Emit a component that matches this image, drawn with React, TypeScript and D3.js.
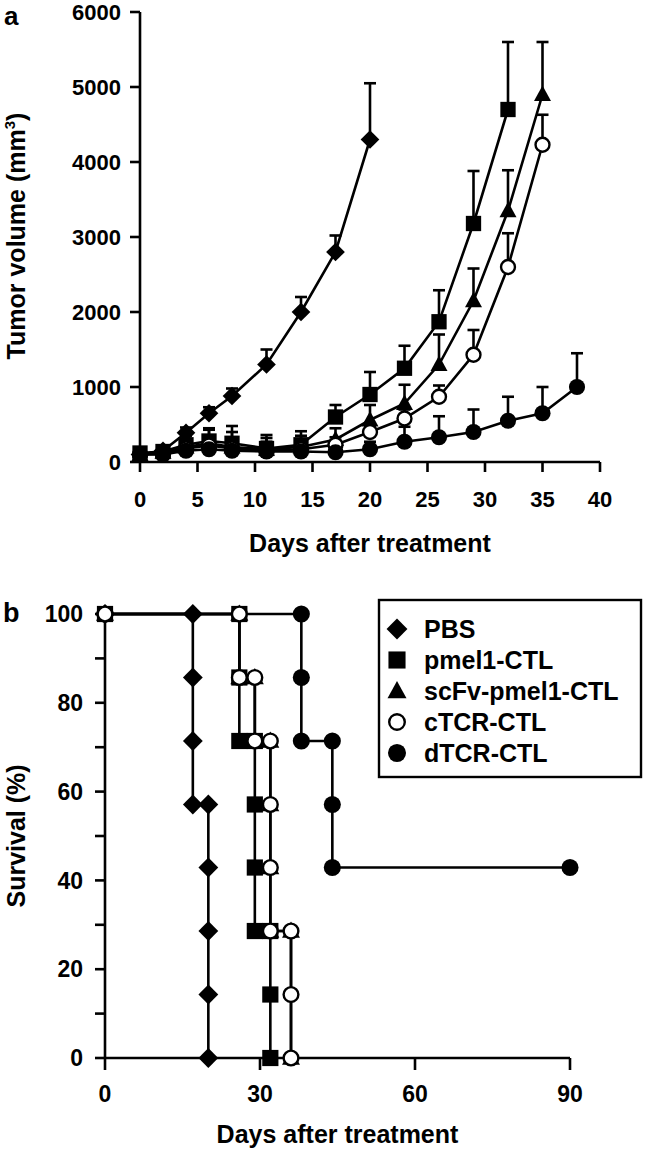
import React from "react";
import * as d3 from "d3";

// ---------- Panel a: tumor volume ----------
const pbsDays = [0, 2, 4, 6, 8, 11, 14, 17, 20];
const pbsVol = [100, 150, 390, 650, 880, 1300, 2000, 2800, 4300];
const pbsErr = [30, 40, 70, 80, 100, 200, 200, 220, 750];

const ctlDays = [0, 2, 4, 6, 8, 11, 14, 17, 20, 23, 26, 29, 32, 35, 38];
const pmel1Vol = [120, 140, 230, 280, 250, 180, 230, 600, 900, 1250, 1870, 3180, 4700];
const pmel1Err = [30, 60, 120, 170, 230, 180, 180, 160, 300, 300, 420, 700, 900];
const scfvVol = [100, 130, 200, 250, 200, 170, 200, 300, 560, 780, 1300, 2150, 3350, 4900];
const scfvErr = [30, 50, 100, 180, 200, 150, 150, 150, 200, 250, 400, 430, 540, 700];
const ctcrVol = [100, 110, 180, 220, 180, 150, 170, 230, 400, 580, 870, 1430, 2600, 4230];
const ctcrErr = [20, 40, 80, 120, 150, 120, 120, 100, 80, 120, 150, 330, 450, 400];
const dtcrVol = [100, 100, 150, 170, 150, 140, 140, 130, 170, 270, 330, 400, 550, 650, 1000];
const dtcrErr = [20, 40, 60, 90, 100, 80, 100, 80, 100, 200, 280, 300, 320, 350, 450];

const volTicks = [0, 1000, 2000, 3000, 4000, 5000, 6000];
const dayTicksA = [0, 5, 10, 15, 20, 25, 30, 35, 40];

// ---------- Panel b: survival ----------
const pbsSurvT = [0, 17, 17, 17, 17, 20, 20, 20, 20, 20];
const pbsSurvS = [100, 100, 85.7, 71.4, 57.1, 57.1, 42.9, 28.6, 14.3, 0];
const pmel1SurvT = [0, 26, 26, 26, 29, 29, 29, 29, 32, 32, 32];
const pmel1SurvS = [100, 100, 85.7, 71.4, 71.4, 57.1, 42.9, 28.6, 28.6, 14.3, 0];
const scfvSurvT = [0, 26, 26, 29, 29, 32, 32, 32, 32, 36, 36];
const scfvSurvS = [100, 100, 85.7, 85.7, 71.4, 71.4, 57.1, 42.9, 28.6, 28.6, 0];
const ctcrSurvT = [0, 26, 26, 29, 29, 32, 32, 32, 32, 36, 36, 36];
const ctcrSurvS = [100, 100, 85.7, 85.7, 71.4, 71.4, 57.1, 42.9, 28.6, 28.6, 14.3, 0];
const dtcrSurvT = [0, 38, 38, 38, 44, 44, 44, 90];
const dtcrSurvS = [100, 100, 85.7, 71.4, 71.4, 57.1, 42.9, 42.9];

const survTicks = [0, 20, 40, 60, 80, 100];
const survMinorTicks = [10, 30, 50, 70, 90];
const dayTicksB = [0, 30, 60, 90];

const legendLabels = ["PBS", "pmel1-CTL", "scFv-pmel1-CTL", "cTCR-CTL", "dTCR-CTL"];
const markerKinds = ["diamond", "square", "triangle", "openCircle", "circle"];

const FONT = "'Liberation Sans', Arial, Helvetica, sans-serif";
const LW = 2.6;

function Marker({ kind, x, y, s }: { kind: string; x: number; y: number; s: number }) {
  const h = s / 2;
  if (kind === "diamond") {
    const d = h * 1.1;
    return <path d={`M${x},${y - d}L${x + d},${y}L${x},${y + d}L${x - d},${y}Z`} fill="#000" />;
  }
  if (kind === "square") {
    return <rect x={x - h * 0.9} y={y - h * 0.9} width={h * 1.8} height={h * 1.8} fill="#000" />;
  }
  if (kind === "triangle") {
    return <path d={`M${x},${y - h * 1.05}L${x + h},${y + h * 0.75}L${x - h},${y + h * 0.75}Z`} fill="#000" />;
  }
  if (kind === "openCircle") {
    return <circle cx={x} cy={y} r={h * 0.82} fill="#fff" stroke="#000" strokeWidth={2.4} />;
  }
  return <circle cx={x} cy={y} r={h * 0.95} fill="#000" />;
}

export default function App() {
  const xA = d3.scaleLinear().domain([0, 40]).range([140, 600]);
  const yA = d3.scaleLinear().domain([0, 6000]).range([462, 12]);
  const xB = d3.scaleLinear().domain([0, 90]).range([105, 570]);
  const yB = d3.scaleLinear().domain([0, 100]).range([1058, 614]);

  const seriesA = [
    { days: pbsDays, vol: pbsVol, err: pbsErr, kind: markerKinds[0] },
    { days: ctlDays, vol: pmel1Vol, err: pmel1Err, kind: markerKinds[1] },
    { days: ctlDays, vol: scfvVol, err: scfvErr, kind: markerKinds[2] },
    { days: ctlDays, vol: ctcrVol, err: ctcrErr, kind: markerKinds[3] },
    { days: ctlDays, vol: dtcrVol, err: dtcrErr, kind: markerKinds[4] },
  ];
  // drawing order for survival: open circles on top
  const seriesB = [
    { t: pbsSurvT, s: pbsSurvS, kind: markerKinds[0] },
    { t: dtcrSurvT, s: dtcrSurvS, kind: markerKinds[4] },
    { t: pmel1SurvT, s: pmel1SurvS, kind: markerKinds[1] },
    { t: scfvSurvT, s: scfvSurvS, kind: markerKinds[2] },
    { t: ctcrSurvT, s: ctcrSurvS, kind: markerKinds[3] },
  ];

  const lineA = d3.line<[number, number]>().x((d) => xA(d[0])).y((d) => yA(d[1]));
  const lineB = d3.line<[number, number]>().x((d) => xB(d[0])).y((d) => yB(d[1]));

  const tickLen = 10;

  return (
    <div style={{ position: "absolute", left: 0, top: 0 }}>
      <svg width={645} height={1152} style={{ display: "block", background: "#fff" }} fontFamily={FONT} fontWeight="bold">
        {/* ---------- Panel a ---------- */}
        <text x={4} y={25} fontSize={26}>a</text>
        <line x1={xA(0)} x2={xA(0)} y1={yA(0)} y2={yA(6000)} stroke="#000" strokeWidth={LW} />
        <line x1={xA(0)} x2={xA(40)} y1={yA(0)} y2={yA(0)} stroke="#000" strokeWidth={LW} />
        {volTicks.map((v) => (
          <g key={"ya" + v}>
            <line x1={xA(0) - tickLen} x2={xA(0)} y1={yA(v)} y2={yA(v)} stroke="#000" strokeWidth={LW} />
            <text x={xA(0) - 19} y={yA(v)} dy="0.36em" textAnchor="end" fontSize={22}>{v}</text>
          </g>
        ))}
        {dayTicksA.map((d) => (
          <g key={"xa" + d}>
            <line x1={xA(d)} x2={xA(d)} y1={yA(0)} y2={yA(0) + tickLen} stroke="#000" strokeWidth={LW} />
            <text x={xA(d)} y={507} textAnchor="middle" fontSize={22}>{d}</text>
          </g>
        ))}
        <text x={xA(20)} y={552} textAnchor="middle" fontSize={25}>Days after treatment</text>
        <text transform={`translate(25,${yA(3000) - 1}) rotate(-90)`} textAnchor="middle" fontSize={25}>
          Tumor volume (mm<tspan fontSize={15} dy={-10}>3</tspan><tspan dy={10}>)</tspan>
        </text>
        {seriesA.map((s, i) => (
          <g key={"eb" + i}>
            {s.vol.map((v, j) => (
              <g key={j}>
                <line x1={xA(s.days[j])} x2={xA(s.days[j])} y1={yA(v)} y2={yA(v + s.err[j])} stroke="#000" strokeWidth={LW} />
                <line x1={xA(s.days[j]) - 6} x2={xA(s.days[j]) + 6} y1={yA(v + s.err[j])} y2={yA(v + s.err[j])} stroke="#000" strokeWidth={LW} />
              </g>
            ))}
          </g>
        ))}
        {seriesA.map((s, i) => (
          <path
            key={"la" + i}
            d={lineA(s.vol.map((v, j) => [s.days[j], v] as [number, number])) || ""}
            fill="none"
            stroke="#000"
            strokeWidth={LW}
          />
        ))}
        {seriesA.map((s, i) => (
          <g key={"ma" + i}>
            {s.vol.map((v, j) => (
              <Marker key={j} kind={s.kind} x={xA(s.days[j])} y={yA(v)} s={17} />
            ))}
          </g>
        ))}

        {/* ---------- Panel b ---------- */}
        <text x={3} y={622} fontSize={27}>b</text>
        <line x1={xB(0)} x2={xB(0)} y1={yB(0)} y2={yB(100)} stroke="#000" strokeWidth={LW} />
        <line x1={xB(0)} x2={xB(90)} y1={yB(0)} y2={yB(0)} stroke="#000" strokeWidth={LW} />
        {survTicks.map((v) => (
          <g key={"yb" + v}>
            <line x1={xB(0) - tickLen} x2={xB(0)} y1={yB(v)} y2={yB(v)} stroke="#000" strokeWidth={LW} />
            <text x={xB(0) - 22} y={yB(v)} dy="0.36em" textAnchor="end" fontSize={23}>{v}</text>
          </g>
        ))}
        {survMinorTicks.map((v) => (
          <line key={"ybm" + v} x1={xB(0) - tickLen} x2={xB(0)} y1={yB(v)} y2={yB(v)} stroke="#000" strokeWidth={LW} />
        ))}
        {dayTicksB.map((d) => (
          <g key={"xb" + d}>
            <line x1={xB(d)} x2={xB(d)} y1={yB(0)} y2={yB(0) + tickLen + 2} stroke="#000" strokeWidth={LW} />
            <text x={xB(d)} y={1102} textAnchor="middle" fontSize={23}>{d}</text>
          </g>
        ))}
        <text x={xB(45)} y={1143} textAnchor="middle" fontSize={25}>Days after treatment</text>
        <text transform={`translate(25,${yB(50)}) rotate(-90)`} textAnchor="middle" fontSize={25}>Survival (%)</text>

        {seriesB.map((s, i) => (
          <path
            key={"lb" + i}
            d={lineB(s.s.map((v, j) => [s.t[j], v] as [number, number])) || ""}
            fill="none"
            stroke="#000"
            strokeWidth={LW}
          />
        ))}
        {seriesB.map((s, i) => (
          <g key={"mb" + i}>
            {s.s.map((v, j) => (
              <Marker key={j} kind={s.kind} x={xB(s.t[j])} y={yB(v)} s={18} />
            ))}
          </g>
        ))}

        <rect x={379} y={600} width={262} height={177} fill="#fff" stroke="#000" strokeWidth={2.4} />
        {legendLabels.map((lab, i) => (
          <g key={"lg" + i}>
            <Marker kind={markerKinds[i]} x={397} y={629 + i * 31} s={19} />
            <text x={424} y={629 + i * 31} dy="0.36em" fontSize={25}>{lab}</text>
          </g>
        ))}
      </svg>
    </div>
  );
}
